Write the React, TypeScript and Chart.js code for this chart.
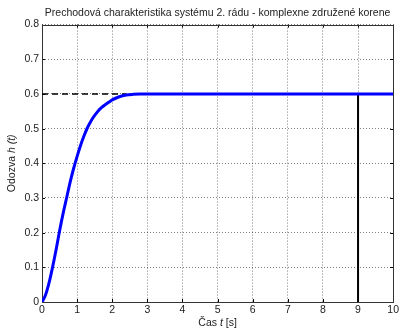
import React, { useEffect, useRef } from "react";
import { Chart, registerables } from "chart.js";

Chart.register(...registerables);

const timeS = [0, 0.1, 0.2, 0.3, 0.4, 0.5, 0.6, 0.7, 0.8, 0.9, 1.0, 1.1, 1.2, 1.3, 1.4, 1.5, 1.6, 1.7, 1.8, 1.9, 2.0, 2.2, 2.4, 2.6, 2.8, 3, 4, 5, 6, 7, 8, 9, 10];
const response = [0, 0.02, 0.055, 0.1, 0.15, 0.205, 0.255, 0.3, 0.345, 0.385, 0.42, 0.452, 0.48, 0.504, 0.523, 0.538, 0.551, 0.561, 0.569, 0.576, 0.583, 0.592, 0.597, 0.599, 0.6, 0.6, 0.6, 0.6, 0.6, 0.6, 0.6, 0.6, 0.6];
const steadyX = [0, 2.4];
const steadyY = [0.6, 0.6];
const markerX = [9, 9];
const markerY = [0, 0.6];
const xTicks = [0, 1, 2, 3, 4, 5, 6, 7, 8, 9, 10];
const yTicks = [0, 0.1, 0.2, 0.3, 0.4, 0.5, 0.6, 0.7, 0.8];
const titleText = "Prechodová charakteristika systému 2. rádu - komplexne združené korene";
const xLabelParts = [["Čas ", false], ["t", true], [" [s]", false]] as [string, boolean][];
const yLabelParts = [["Odozva ", false], ["h", true], [" (t)", true]] as [string, boolean][];

const FONT = "Liberation Sans, Arial, sans-serif";

function drawParts(ctx: CanvasRenderingContext2D, parts: [string, boolean][], size: number) {
  let total = 0;
  const widths: number[] = [];
  for (const [t, it] of parts) {
    ctx.font = `${it ? "italic " : ""}${size}px ${FONT}`;
    const w = ctx.measureText(t).width;
    widths.push(w);
    total += w;
  }
  let x = -total / 2;
  parts.forEach(([t, it], i) => {
    ctx.font = `${it ? "italic " : ""}${size}px ${FONT}`;
    ctx.fillText(t, x, 0);
    x += widths[i];
  });
}

const matlabAxes = {
  id: "matlabAxes",
  beforeDatasetsDraw(chart: any) {
    const { ctx, chartArea: a, scales } = chart;
    ctx.save();
    ctx.strokeStyle = "#000";
    ctx.lineWidth = 1;
    ctx.setLineDash([]);
    ctx.beginPath();
    for (const v of xTicks) {
      const px = Math.round(scales.x.getPixelForValue(v)) + 0.5;
      ctx.moveTo(px, a.bottom);
      ctx.lineTo(px, a.bottom - 3);
      ctx.moveTo(px, a.top);
      ctx.lineTo(px, a.top + 3);
    }
    for (const v of yTicks) {
      const py = Math.round(scales.y.getPixelForValue(v)) + 0.5;
      ctx.moveTo(a.left, py);
      ctx.lineTo(a.left + 3, py);
      ctx.moveTo(a.right, py);
      ctx.lineTo(a.right - 3, py);
    }
    ctx.stroke();
    ctx.strokeStyle = "#333";
    ctx.strokeRect(Math.round(a.left) + 0.5, Math.round(a.top) + 0.5, Math.round(a.right - a.left), Math.round(a.bottom - a.top));
    ctx.restore();
  },
  afterDraw(chart: any) {
    const { ctx, chartArea: a } = chart;
    ctx.save();
    ctx.fillStyle = "#222";
    ctx.textBaseline = "middle";
    ctx.textAlign = "left";
    ctx.translate((a.left + a.right) / 2, 323);
    drawParts(ctx, xLabelParts, 10.5);
    ctx.restore();
    ctx.save();
    ctx.fillStyle = "#222";
    ctx.textBaseline = "middle";
    ctx.textAlign = "left";
    ctx.translate(12, (a.top + a.bottom) / 2);
    ctx.rotate(-Math.PI / 2);
    drawParts(ctx, yLabelParts, 10.5);
    ctx.restore();
  },
};

export default function App() {
  const ref = useRef<HTMLCanvasElement>(null);
  useEffect(() => {
    if (!ref.current) return;
    const chart = new Chart(ref.current, {
      type: "line",
      data: {
        datasets: [
          {
            data: timeS.map((t, i) => ({ x: t, y: response[i] })),
            borderColor: "#0000ff",
            borderWidth: 3,
            pointRadius: 0,
            cubicInterpolationMode: "monotone",
          },
          {
            data: steadyX.map((t, i) => ({ x: t, y: steadyY[i] })),
            borderColor: "#000",
            borderWidth: 1.5,
            borderDash: [6, 4],
            pointRadius: 0,
          },
          {
            data: markerX.map((t, i) => ({ x: t, y: markerY[i] })),
            borderColor: "#000",
            borderWidth: 2,
            pointRadius: 0,
          },
        ],
      },
      options: {
        responsive: false,
        animation: false,
        layout: { padding: { left: 0, right: 6, top: 0, bottom: 0 } },
        plugins: {
          legend: { display: false },
          tooltip: { enabled: false },
          title: {
            display: true,
            fullSize: false,
            text: titleText,
            color: "#222",
            font: { family: FONT, size: 10.5, weight: "normal" },
            padding: { top: 7, bottom: 5 },
          },
        },
        scales: {
          x: {
            type: "linear",
            min: 0,
            max: 10,
            afterBuildTicks: (s: any) => {
              s.ticks = xTicks.map((v) => ({ value: v }));
            },
            afterFit: (s: any) => {
              s.height = 29;
            },
            ticks: {
              color: "#222",
              font: { family: FONT, size: 10.5 },
              padding: 2,
              maxRotation: 0,
              autoSkip: false,
            },
            grid: {
              color: "rgba(0,0,0,0.5)",
              lineWidth: 1,
              drawTicks: false,
            },
            border: { display: false, dash: [1, 2] },
          },
          y: {
            type: "linear",
            min: 0,
            max: 0.8,
            afterBuildTicks: (s: any) => {
              s.ticks = yTicks.map((v) => ({ value: v }));
            },
            afterFit: (s: any) => {
              s.width = 42;
            },
            ticks: {
              color: "#222",
              font: { family: FONT, size: 10.5 },
              padding: 3,
              autoSkip: false,
              callback: (v: any) => (Number(v) === 0 ? "0" : Number(v).toFixed(1)),
            },
            grid: {
              color: "rgba(0,0,0,0.5)",
              lineWidth: 1,
              drawTicks: false,
            },
            border: { display: false, dash: [1, 2] },
          },
        },
      } as any,
      plugins: [matlabAxes],
    });
    return () => chart.destroy();
  }, []);
  return (
    <div style={{ position: "absolute", left: 0, top: 0, width: 401, height: 331, background: "#fff" }}>
      <canvas ref={ref} width={401} height={331} />
    </div>
  );
}
